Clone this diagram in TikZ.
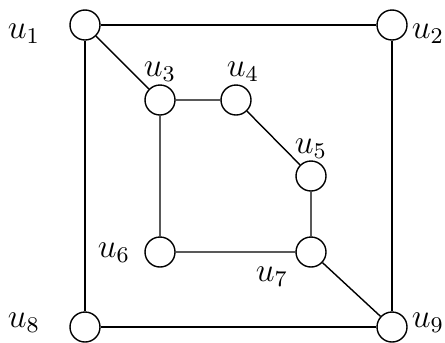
\documentclass[tikz,border=0pt]{standalone}
\tikzset{vtx/.style={draw, circle, fill=white, minimum size=3.75mm, inner sep=0pt},
  lbl/.style={font=\large}}
\begin{document}
\begin{tikzpicture}[x=0.0125cm, y=-0.0125cm, line width=0.5pt]
    \useasboundingbox (0,0) rectangle (445,342);
    % vertices
    \node[vtx] (u1) at (85,25) {};
    \node[vtx] (u2) at (392,25) {};
    \node[vtx] (u3) at (160,100) {};
    \node[vtx] (u4) at (236,100) {};
    \node[vtx] (u5) at (311,176) {};
    \node[vtx] (u6) at (160,252) {};
    \node[vtx] (u7) at (311,252) {};
    \node[vtx] (u8) at (85,327) {};
    \node[vtx] (u9) at (392,327) {};
    % edges
    \draw (u1) -- (u2) -- (u9) -- (u8) -- (u1);
    \draw (u1) -- (u3) -- (u4) -- (u5) -- (u7) -- (u6) -- (u3);
    \draw (u7) -- (u9);
    % labels
    \node[lbl] (l1) at (24,34) {$u_1$};
    \node[lbl] (l2) at (428,34) {$u_2$};
    \node[lbl] (l3) at (160,72) {$u_3$};
    \node[lbl] (l4) at (243,72) {$u_4$};
    \node[lbl] (l5) at (311,149) {$u_5$};
    \node[lbl] (l6) at (114,253) {$u_6$};
    \node[lbl] (l7) at (272,277) {$u_7$};
    \node[lbl] (l8) at (24,323) {$u_8$};
    \node[lbl] (l9) at (428,323) {$u_9$};
\end{tikzpicture}
\end{document}
